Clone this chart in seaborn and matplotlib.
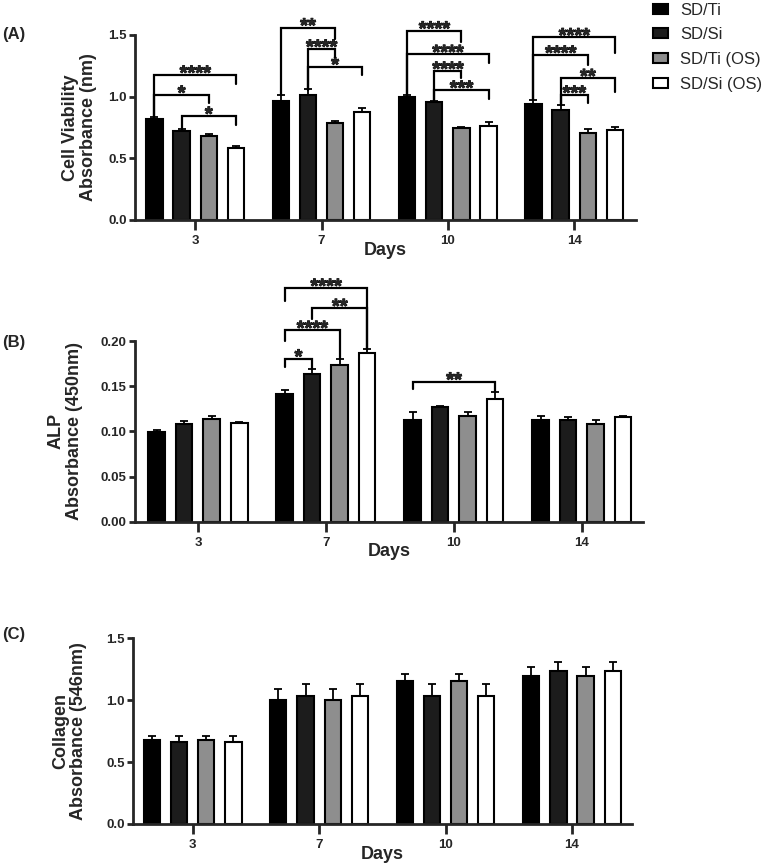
import numpy as np
import pandas as pd
import seaborn as sns
import matplotlib.pyplot as plt
import matplotlib.patheffects as pe
from matplotlib.patches import Patch

days = ['3', '7', '10', '14']
groups = ['SD/Ti', 'SD/Si', 'SD/Ti (OS)', 'SD/Si (OS)']
colors = ['#000000', '#1c1c1c', '#8e8e8e', '#ffffff']

# (A) cell viability, absorbance (nm)
via_ti = [0.817, 0.967, 0.995, 0.940]
via_si = [0.720, 1.016, 0.960, 0.892]
via_ti_os = [0.680, 0.790, 0.746, 0.703]
via_si_os = [0.580, 0.878, 0.762, 0.730]
via_err_ti = [0.016, 0.047, 0.021, 0.033]
via_err_si = [0.015, 0.044, 0.005, 0.041]
via_err_ti_os = [0.020, 0.015, 0.004, 0.032]
via_err_si_os = [0.020, 0.032, 0.035, 0.027]

# (B) ALP, absorbance (450nm)
alp_ti = [0.0993, 0.1408, 0.1130, 0.1130]
alp_si = [0.1080, 0.1638, 0.1270, 0.1122]
alp_ti_os = [0.1140, 0.1730, 0.1167, 0.1080]
alp_si_os = [0.1097, 0.1871, 0.1363, 0.1156]
alp_err_ti = [0.0023, 0.0048, 0.0088, 0.0037]
alp_err_si = [0.0040, 0.0052, 0.0010, 0.0034]
alp_err_ti_os = [0.0027, 0.0067, 0.0043, 0.0042]
alp_err_si_os = [0.0007, 0.0045, 0.0070, 0.0018]

# (C) collagen, absorbance (546nm)
col_ti = [0.678, 1.000, 1.158, 1.195]
col_si = [0.660, 1.034, 1.036, 1.233]
col_ti_os = [0.678, 1.000, 1.158, 1.195]
col_si_os = [0.660, 1.034, 1.036, 1.233]
col_err_ti = [0.035, 0.088, 0.052, 0.071]
col_err_si = [0.053, 0.094, 0.097, 0.073]
col_err_ti_os = [0.035, 0.088, 0.052, 0.071]
col_err_si_os = [0.053, 0.094, 0.097, 0.073]

# significance brackets: (day, group a, group b, bar height, left end, right end, label)
via_sig = [(0, 0, 3, 1.176, 0.838, 1.100, '****'),
           (0, 0, 2, 1.014, 0.838, 0.946, '*'),
           (0, 1, 3, 0.843, 0.749, 0.770, '*'),
           (1, 0, 2, 1.560, 1.014, 1.470, '**'),
           (1, 1, 2, 1.387, 1.054, 1.320, '****'),
           (1, 1, 3, 1.243, 1.054, 1.176, '*'),
           (2, 0, 2, 1.535, 1.014, 1.445, '****'),
           (2, 0, 3, 1.344, 1.014, 1.270, '****'),
           (2, 1, 2, 1.208, 0.973, 1.150, '****'),
           (2, 1, 3, 1.054, 0.973, 0.979, '***'),
           (3, 0, 3, 1.480, 0.979, 1.350, '****'),
           (3, 0, 2, 1.338, 0.979, 1.257, '****'),
           (3, 1, 3, 1.149, 0.933, 1.040, '**'),
           (3, 1, 2, 1.014, 0.933, 0.946, '***')]
alp_sig = [(1, 0, 3, 0.2586, 0.2440, 0.1916, '****'),
           (1, 1, 3, 0.2363, 0.2240, 0.1916, '**'),
           (1, 0, 2, 0.2120, 0.2000, 0.1797, '****'),
           (1, 0, 1, 0.1804, 0.1710, 0.1690, '*'),
           (2, 0, 3, 0.1549, 0.1470, 0.1445, '**')]

sns.set_style('ticks')
plt.rcParams['font.family'] = ['Liberation Sans', 'DejaVu Sans']
plt.rcParams['font.weight'] = 'bold'
plt.rcParams['axes.labelweight'] = 'bold'


def long_table(means, errs):
    rows = []
    for g, m, e in zip(groups, means, errs):
        for d, v, s in zip(days, m, e):
            rows.append((d, g, v, s))
    return pd.DataFrame(rows, columns=['day', 'group', 'value', 'err'])


def draw_panel(ax, means, errs, sig, ylim, yticks, ylabel, xlim, label_x):
    df = long_table(means, errs)
    sns.barplot(data=df, x='day', y='value', hue='group', order=days,
                hue_order=groups, palette=dict(zip(groups, colors)),
                errorbar=None, width=0.86, gap=0.4, saturation=1,
                edgecolor='black', linewidth=1.5, legend=False, ax=ax)
    centers = []
    for cont, e in zip(ax.containers, errs):
        xs = [p.get_x() + p.get_width() / 2 for p in cont]
        hs = [p.get_height() for p in cont]
        centers.append(xs)
        ax.errorbar(xs, hs, yerr=[np.zeros(len(e)), e], fmt='none',
                    ecolor='black', elinewidth=1.3, capsize=3.2,
                    capthick=1.3, zorder=3)
    # brackets with stars
    for d, a, b, y, yl, yr, lab in sig:
        x1, x2 = centers[a][d], centers[b][d]
        ax.plot([x1, x1, x2, x2], [yl, y, y, yr], color='black', lw=1.6,
                clip_on=False, solid_joinstyle='miter', zorder=4)
        t = ax.annotate(lab, ((x1 + x2) / 2, y), xytext=(0, -3.2),
                        textcoords='offset points', ha='center',
                        va='baseline', fontsize=14.5, fontweight='bold',
                        annotation_clip=False)
        t.set_path_effects([pe.withStroke(linewidth=0.6, foreground='black')])
    ax.set_ylim(*ylim)
    ax.set_yticks(yticks)
    ax.set_xlim(*xlim)
    sns.despine(ax=ax)
    for s in ['left', 'bottom']:
        ax.spines[s].set_linewidth(2)
    ax.tick_params(axis='x', width=2, length=7, labelsize=9.5, pad=4)
    ax.tick_params(axis='y', width=2, length=4.5, labelsize=9.5, pad=1.5)
    ax.set_ylabel(ylabel, fontsize=13, fontweight='bold', linespacing=1.1)
    ax.yaxis.set_label_coords(label_x, 0.5)
    ax.set_xlabel('Days', fontsize=13, fontweight='bold')
    ax.xaxis.set_label_coords(0.5, -0.12)


fig = plt.figure(figsize=(7.62, 8.66), dpi=100)
ax_a = fig.add_axes([135 / 762, 1 - 220 / 866, 501 / 762, 185 / 866])
ax_b = fig.add_axes([135 / 762, 1 - 521.7 / 866, 508 / 762, 180.7 / 866])
ax_c = fig.add_axes([133 / 762, 1 - 824 / 866, 499 / 762, 185.7 / 866])

draw_panel(ax_a, [via_ti, via_si, via_ti_os, via_si_os],
           [via_err_ti, via_err_si, via_err_ti_os, via_err_si_os], via_sig,
           (0, 1.5), [0, 0.5, 1.0, 1.5],
           'Cell Viability\nAbsorbance (nm)', (-0.476, 3.489), -0.076)
draw_panel(ax_b, [alp_ti, alp_si, alp_ti_os, alp_si_os],
           [alp_err_ti, alp_err_si, alp_err_ti_os, alp_err_si_os], alp_sig,
           (0, 0.20), [0, 0.05, 0.10, 0.15, 0.20],
           'ALP\nAbsorbance (450nm)', (-0.492, 3.477), -0.102)
draw_panel(ax_c, [col_ti, col_si, col_ti_os, col_si_os],
           [col_err_ti, col_err_si, col_err_ti_os, col_err_si_os], [],
           (0, 1.5), [0, 0.5, 1.0, 1.5],
           'Collagen\nAbsorbance (546nm)', (-0.472, 3.475), -0.092)

ax_a.set_yticklabels(['0.0', '0.5', '1.0', '1.5'])
ax_b.set_yticklabels(['0.00', '0.05', '0.10', '0.15', '0.20'])
ax_c.set_yticklabels(['0.0', '0.5', '1.0', '1.5'])

handles = [Patch(facecolor=c, edgecolor='black', linewidth=1.5) for c in colors]
fig.legend(handles, groups, loc='upper left', bbox_to_anchor=(653 / 762, 0.997),
           frameon=False, borderpad=0, borderaxespad=0, handlelength=0.9,
           handleheight=0.55, handletextpad=0.75, labelspacing=0.58,
           prop={'size': 12, 'weight': 'normal'})

fig.text(0.003, 1 - 35 / 866, '(A)', fontsize=12, fontweight='bold', va='center')
fig.text(0.003, 1 - 343 / 866, '(B)', fontsize=12, fontweight='bold', va='center')
fig.text(0.003, 1 - 635 / 866, '(C)', fontsize=12, fontweight='bold', va='center')

fig.savefig('out.png', dpi=100)
